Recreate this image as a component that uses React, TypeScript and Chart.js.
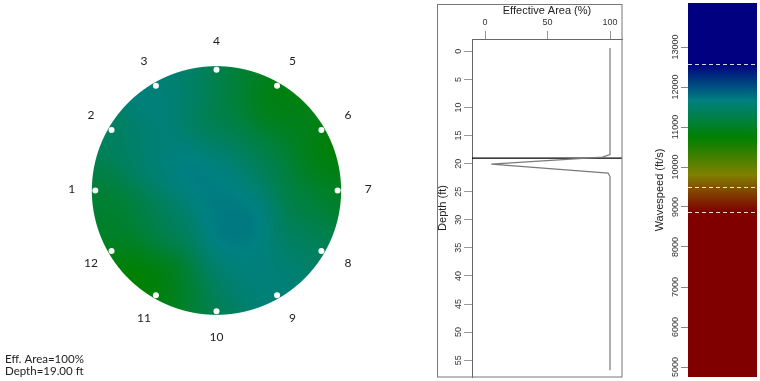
import React, { useEffect, useRef } from "react";
import { Chart, registerables } from "chart.js";

Chart.register(...registerables);

// ---------------- data ----------------
const sensorLabels = ["1", "2", "3", "4", "5", "6", "7", "8", "9", "10", "11", "12"];
const sensorAnglesDeg = [180, 150, 120, 90, 60, 30, 0, -30, -60, -90, -120, -150];
const sensorRadius = 0.972;
const labelRadius = 1.19;
const labelShiftU = 0.028;

// wavespeed samples read inside the unit disc (ft/s)
const fieldU = [-0.42, 0.03, 0.5, 0.63, 0.4, 0.89, 0.76, 0.76, 0.5, 0.11, -0.03, -0.29, -0.63, -0.81, -0.92, -0.86, -0.55, -0.42, -0.1, 0.16, 0.03, 0.0, -0.22, 0.25, 0.97];
const fieldV = [0.77, 0.5, 0.77, 0.5, 0.24, 0.24, -0.07, -0.41, -0.68, -0.68, -0.91, -0.86, -0.65, -0.29, -0.02, 0.37, 0.24, -0.29, 0.24, -0.21, 0.0, 0.9, 0.9, 0.92, -0.05];
const fieldSpeed = [11650, 11200, 10760, 10950, 11340, 10700, 11300, 11400, 11600, 11660, 11360, 10850, 10700, 11020, 11100, 11400, 11580, 11400, 11760, 11740, 11660, 11300, 11500, 11020, 10900];

const depthFt = [-0.6, 18.4, 18.85, 20.1, 21.7, 22.3, 56.8];
const effAreaPct = [100, 100, 94, 5, 98.5, 100, 100];
const cursorDepth = 19.0;
const depthTicks = [0, 5, 10, 15, 20, 25, 30, 35, 40, 45, 50, 55];
const areaTicks = [0, 50, 100];

const colorStopSpeeds = [8883, 9808, 10733, 11658, 12583];
const colorStopRGB = [
  [128, 0, 0],
  [128, 128, 0],
  [0, 128, 0],
  [0, 128, 128],
  [0, 0, 128],
];
const speedTicks = [5000, 6000, 7000, 8000, 9000, 10000, 11000, 12000, 13000];
const speedMarkers = [12583, 9508, 8883];
const speedMin = 4750;
const speedMax = 14100;

const infoLines = ["Eff. Area=100%", "Depth=19.00 ft"];

// ---------------- helpers ----------------
function colorFor(speed: number): number[] {
  const n = colorStopSpeeds.length;
  if (speed <= colorStopSpeeds[0]) return colorStopRGB[0];
  if (speed >= colorStopSpeeds[n - 1]) return colorStopRGB[n - 1];
  for (let i = 0; i < n - 1; i++) {
    const a = colorStopSpeeds[i];
    const b = colorStopSpeeds[i + 1];
    if (speed >= a && speed <= b) {
      const t = (speed - a) / (b - a);
      const ca = colorStopRGB[i];
      const cb = colorStopRGB[i + 1];
      return [ca[0] + (cb[0] - ca[0]) * t, ca[1] + (cb[1] - ca[1]) * t, ca[2] + (cb[2] - ca[2]) * t];
    }
  }
  return colorStopRGB[n - 1];
}

function speedAt(u: number, v: number): number {
  let sw = 0;
  let s = 0;
  for (let i = 0; i < fieldU.length; i++) {
    const du = u - fieldU[i];
    const dv = v - fieldV[i];
    const w = Math.exp(-(du * du + dv * dv) / 0.07);
    sw += w;
    s += w * fieldSpeed[i];
  }
  return s / sw;
}

const sensorPoints = sensorAnglesDeg.map((a) => ({
  x: sensorRadius * Math.cos((a * Math.PI) / 180),
  y: sensorRadius * Math.sin((a * Math.PI) / 180),
}));

const CIRCLE_FONT = '12px Lato, "Liberation Sans", sans-serif';
const AXIS_FONT = '"Liberation Sans", Arial, sans-serif';
const R_PX = 127;

// ---------------- chart 1: tomogram ----------------
const fieldPlugin = {
  id: "tomoField",
  beforeDatasetsDraw(chart: any) {
    const xs = chart.scales.x;
    const ys = chart.scales.y;
    const cx = xs.getPixelForValue(0);
    const cy = ys.getPixelForValue(0);
    const R = xs.getPixelForValue(1) - cx;
    const x0 = Math.floor(cx - R - 2);
    const y0 = Math.floor(cy - R - 2);
    const size = Math.ceil(2 * R + 4);
    const off = document.createElement("canvas");
    off.width = size;
    off.height = size;
    const octx = off.getContext("2d")!;
    const img = octx.createImageData(size, size);
    for (let py = 0; py < size; py++) {
      for (let px = 0; px < size; px++) {
        const u = xs.getValueForPixel(x0 + px + 0.5);
        const v = ys.getValueForPixel(y0 + py + 0.5);
        const r = Math.sqrt(u * u + v * v);
        const cov = Math.max(0, Math.min(1, (1 - r) * R + 0.5));
        if (cov <= 0) continue;
        const c = colorFor(speedAt(u, v));
        const k = (py * size + px) * 4;
        img.data[k] = c[0];
        img.data[k + 1] = c[1];
        img.data[k + 2] = c[2];
        img.data[k + 3] = Math.round(cov * 255);
      }
    }
    octx.putImageData(img, 0, 0);
    chart.ctx.drawImage(off, x0, y0);
  },
  afterDatasetsDraw(chart: any) {
    const xs = chart.scales.x;
    const ys = chart.scales.y;
    const ctx = chart.ctx;
    ctx.save();
    ctx.font = CIRCLE_FONT;
    ctx.fillStyle = "#222";
    ctx.textAlign = "center";
    ctx.textBaseline = "middle";
    sensorLabels.forEach((lab, i) => {
      const a = (sensorAnglesDeg[i] * Math.PI) / 180;
      const c = Math.cos(a);
      const px = xs.getPixelForValue(labelRadius * c + labelShiftU * Math.abs(c));
      const py = ys.getPixelForValue(labelRadius * Math.sin(a));
      ctx.fillText(lab, px, py - 1);
    });
    ctx.font = '11.5px Lato, "Liberation Sans", sans-serif';
    ctx.textAlign = "left";
    ctx.fillText(infoLines[0], 5, 359);
    ctx.fillText(infoLines[1], 5, 371);
    ctx.restore();
  },
};

// ---------------- chart 2: depth profile ----------------
const depthPlugin = {
  id: "depthDecor",
  afterDraw(chart: any) {
    const ctx = chart.ctx;
    const s = chart.scales.y;
    ctx.save();
    ctx.strokeStyle = "#777";
    ctx.lineWidth = 1;
    ctx.strokeRect(7.5, 4.5, 184.5, 372.5);
    ctx.font = "9px " + AXIS_FONT;
    ctx.fillStyle = "#333";
    ctx.textAlign = "center";
    ctx.textBaseline = "middle";
    s.ticks.forEach((t: any) => {
      const y = s.getPixelForValue(t.value);
      ctx.save();
      ctx.translate(s.right - 13, y);
      ctx.rotate(-Math.PI / 2);
      ctx.fillText(String(t.value), 0, 0);
      ctx.restore();
    });
    ctx.restore();
  },
};

// ---------------- chart 3: colour bar ----------------
const barPlugin = {
  id: "barDecor",
  afterDatasetsDraw(chart: any) {
    const ctx = chart.ctx;
    const s = chart.scales.y;
    const area = chart.chartArea;
    ctx.save();
    ctx.strokeStyle = "rgba(255,255,255,0.85)";
    ctx.lineWidth = 1;
    ctx.setLineDash([4, 3]);
    speedMarkers.forEach((v) => {
      const y = Math.round(s.getPixelForValue(v)) + 0.5;
      ctx.beginPath();
      ctx.moveTo(area.left, y);
      ctx.lineTo(area.right, y);
      ctx.stroke();
    });
    ctx.setLineDash([]);
    ctx.font = "9px " + AXIS_FONT;
    ctx.fillStyle = "#333";
    ctx.textAlign = "center";
    ctx.textBaseline = "middle";
    s.ticks.forEach((t: any) => {
      const y = s.getPixelForValue(t.value);
      ctx.save();
      ctx.translate(s.right - 12, y);
      ctx.rotate(-Math.PI / 2);
      ctx.fillText(String(t.value), 0, 0);
      ctx.restore();
    });
    ctx.restore();
  },
};

export default function App() {
  const c1 = useRef<HTMLCanvasElement>(null);
  const c2 = useRef<HTMLCanvasElement>(null);
  const c3 = useRef<HTMLCanvasElement>(null);

  useEffect(() => {
    const charts: Chart[] = [];

    charts.push(
      new Chart(c1.current as HTMLCanvasElement, {
        type: "scatter",
        data: {
          datasets: [
            {
              data: sensorPoints,
              pointRadius: 3,
              pointBackgroundColor: "#ffffff",
              pointBorderWidth: 0,
              showLine: false,
            },
          ],
        },
        options: {
          animation: false,
          responsive: false,
          maintainAspectRatio: false,
          layout: { padding: 0 },
          plugins: { legend: { display: false }, tooltip: { enabled: false } },
          scales: {
            x: { type: "linear", display: false, min: -216.5 / R_PX, max: 213.5 / R_PX },
            y: { type: "linear", display: false, min: -190.5 / R_PX, max: 190.5 / R_PX },
          },
        },
        plugins: [fieldPlugin],
      } as any)
    );

    charts.push(
      new Chart(c2.current as HTMLCanvasElement, {
        type: "scatter",
        data: {
          datasets: [
            {
              data: depthFt.map((d, i) => ({ x: effAreaPct[i], y: d })),
              showLine: true,
              borderColor: "#7a7a7a",
              borderWidth: 1.2,
              pointRadius: 0,
            },
            {
              data: [
                { x: -10.4, y: cursorDepth },
                { x: 109.6, y: cursorDepth },
              ],
              showLine: true,
              borderColor: "#000",
              borderWidth: 1.3,
              pointRadius: 0,
            },
          ],
        },
        options: {
          animation: false,
          responsive: false,
          maintainAspectRatio: false,
          layout: { padding: { left: 0, right: 8, top: 0, bottom: 4 } },
          plugins: { legend: { display: false }, tooltip: { enabled: false } },
          scales: {
            x: {
              type: "linear",
              position: "top",
              min: -10.4,
              max: 109.6,
              afterBuildTicks: (s: any) => {
                s.ticks = areaTicks.map((v) => ({ value: v }));
              },
              afterFit: (s: any) => {
                s.height = 39;
              },
              ticks: { font: { size: 9, family: AXIS_FONT }, color: "#333", padding: 3 },
              grid: { drawOnChartArea: false, drawTicks: true, tickLength: 8, color: "#999" },
              border: { display: true, color: "#666" },
              title: {
                display: true,
                text: "Effective Area (%)",
                font: { size: 11, family: AXIS_FONT },
                color: "#222",
                padding: { top: 4, bottom: 0 },
              },
            },
            y: {
              type: "linear",
              reverse: true,
              min: -2.2,
              max: 58,
              afterBuildTicks: (s: any) => {
                s.ticks = depthTicks.map((v) => ({ value: v }));
              },
              afterFit: (s: any) => {
                s.width = 42;
              },
              ticks: { display: false },
              grid: { drawOnChartArea: false, drawTicks: true, tickLength: 8, color: "#999" },
              border: { display: true, color: "#666" },
              title: {
                display: true,
                text: "Depth (ft)",
                font: { size: 11, family: AXIS_FONT },
                color: "#222",
                padding: { top: 6, bottom: 0 },
              },
            },
          },
        },
        plugins: [depthPlugin],
      } as any)
    );

    charts.push(
      new Chart(c3.current as HTMLCanvasElement, {
        type: "bar",
        data: {
          labels: ["Wavespeed"],
          datasets: [
            {
              data: [[speedMin, speedMax]],
              barPercentage: 1,
              categoryPercentage: 1,
              borderWidth: 0,
              borderSkipped: false,
              backgroundColor: (ctx: any) => {
                const chart = ctx.chart;
                if (!chart.chartArea) return "#800000";
                const ys = chart.scales.y;
                const yA = ys.getPixelForValue(colorStopSpeeds[0]);
                const yB = ys.getPixelForValue(colorStopSpeeds[colorStopSpeeds.length - 1]);
                const g = chart.ctx.createLinearGradient(0, yA, 0, yB);
                colorStopSpeeds.forEach((sp, i) => {
                  const t = (sp - colorStopSpeeds[0]) / (colorStopSpeeds[colorStopSpeeds.length - 1] - colorStopSpeeds[0]);
                  const c = colorStopRGB[i];
                  g.addColorStop(t, `rgb(${c[0]},${c[1]},${c[2]})`);
                });
                return g;
              },
            },
          ],
        },
        options: {
          animation: false,
          responsive: false,
          maintainAspectRatio: false,
          layout: { padding: { left: 0, right: 3, top: 3, bottom: 4 } },
          plugins: { legend: { display: false }, tooltip: { enabled: false } },
          scales: {
            x: { display: false },
            y: {
              type: "linear",
              min: speedMin,
              max: speedMax,
              afterBuildTicks: (s: any) => {
                s.ticks = speedTicks.map((v) => ({ value: v }));
              },
              afterFit: (s: any) => {
                s.width = 48;
              },
              ticks: { display: false },
              grid: { drawOnChartArea: false, drawTicks: true, tickLength: 7, color: "#888" },
              border: { display: false },
              title: {
                display: true,
                text: "Wavespeed (ft/s)",
                font: { size: 11, family: AXIS_FONT },
                color: "#222",
                padding: { top: 13, bottom: 0 },
              },
            },
          },
        },
        plugins: [barPlugin],
      } as any)
    );

    return () => charts.forEach((c) => c.destroy());
  }, []);

  return (
    <div style={{ position: "absolute", left: 0, top: 0, width: 760, height: 381, background: "#fff" }}>
      <canvas ref={c1} width={430} height={381} style={{ position: "absolute", left: 0, top: 0, width: 430, height: 381 }} />
      <canvas ref={c2} width={200} height={381} style={{ position: "absolute", left: 430, top: 0, width: 200, height: 381 }} />
      <canvas ref={c3} width={120} height={381} style={{ position: "absolute", left: 640, top: 0, width: 120, height: 381 }} />
    </div>
  );
}
